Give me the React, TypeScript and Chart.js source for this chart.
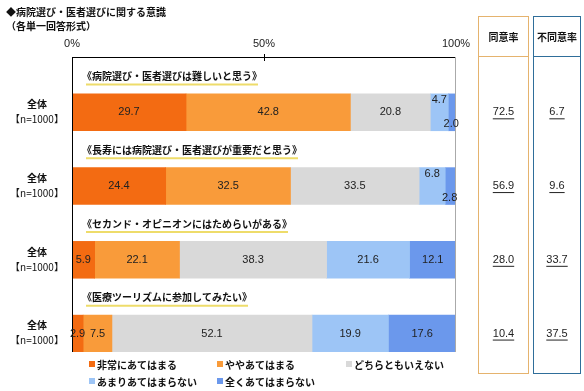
import React, { useEffect, useRef } from 'react';
import { Chart, registerables } from 'chart.js';

Chart.register(...registerables);

const chartTitle = '◆病院選び・医者選びに関する意識';
const chartSubtitle = '（各単一回答形式）';
const questions = [
  '《病院選び・医者選びは難しいと思う》',
  '《長寿には病院選び・医者選びが重要だと思う》',
  '《セカンド・オピニオンにはためらいがある》',
  '《医療ツーリズムに参加してみたい》',
];
const groupLabelTop = '全体';
const groupLabelBottom = '【n=1000】';
const seriesNames = ['非常にあてはまる', 'ややあてはまる', 'どちらともいえない', 'あまりあてはまらない', '全くあてはまらない'];
const veryTrue = [29.7, 24.4, 5.9, 2.9];
const somewhatTrue = [42.8, 32.5, 22.1, 7.5];
const neither = [20.8, 33.5, 38.3, 52.1];
const notMuch = [4.7, 6.8, 21.6, 19.9];
const notAtAll = [2.0, 2.8, 12.1, 17.6];
const agreeRate = [72.5, 56.9, 28.0, 10.4];
const disagreeRate = [6.7, 9.6, 33.7, 37.5];
const rateHeaders = ['同意率', '不同意率'];
const xTickValues = [0, 50, 100];

const COLORS = ['#F36B12', '#F99B3A', '#D9D9D9', '#9DC5F6', '#6B98EC'];
const JP = '"Noto Sans CJK JP", sans-serif';
const NUM = '"Liberation Sans", Arial, sans-serif';

const seriesValues = [veryTrue, somewhatTrue, neither, notMuch, notAtAll];

// 8 categories: title row, bar row alternating
const categories: string[] = [];
questions.forEach((q, i) => {
  categories.push('q' + i);
  categories.push('b' + i);
});

function expand(arr: number[]): (number | null)[] {
  const out: (number | null)[] = [];
  arr.forEach((v) => {
    out.push(null);
    out.push(v);
  });
  return out;
}

const overlayPlugin = {
  id: 'overlay',
  afterDraw(chart: any) {
    const ctx = chart.ctx as CanvasRenderingContext2D;
    const xs = chart.scales.x;
    const ys = chart.scales.y;
    const area = chart.chartArea;
    ctx.save();

    // Header
    ctx.fillStyle = '#111';
    ctx.textBaseline = 'middle';
    ctx.textAlign = 'left';
    ctx.font = `bold 10px ${JP}`;
    ctx.fillText(chartTitle, 6, 12);
    ctx.fillText(chartSubtitle, 6, 26);

    // Frame
    ctx.lineWidth = 1;
    ctx.strokeStyle = '#000';
    ctx.beginPath();
    ctx.moveTo(area.left, area.top + 0.5);
    ctx.lineTo(area.right, area.top + 0.5);
    ctx.moveTo(area.left + 0.5, area.top);
    ctx.lineTo(area.left + 0.5, area.bottom);
    const x50 = Math.round(xs.getPixelForValue(50)) + 0.5;
    ctx.moveTo(x50, area.top - 3);
    ctx.lineTo(x50, area.top + 4);
    ctx.stroke();
    ctx.strokeStyle = '#AAAAAA';
    ctx.beginPath();
    ctx.moveTo(Math.round(area.right) - 0.5, area.top);
    ctx.lineTo(Math.round(area.right) - 0.5, area.bottom);
    ctx.stroke();

    // Question titles with underline
    questions.forEach((q, i) => {
      const y = ys.getPixelForValue(i * 2) + 1;
      ctx.font = `bold 10px ${JP}`;
      ctx.fillStyle = '#111';
      ctx.textAlign = 'left';
      ctx.fillText(q, area.left + 10, y);
      const w = ctx.measureText(q).width;
      ctx.strokeStyle = '#EEDC6A';
      ctx.lineWidth = 2;
      ctx.beginPath();
      ctx.moveTo(area.left + 14, y + 8);
      ctx.lineTo(area.left + 10 + w - 4, y + 8);
      ctx.stroke();
    });

    // Row labels
    questions.forEach((_, i) => {
      const y = ys.getPixelForValue(i * 2 + 1);
      ctx.fillStyle = '#111';
      ctx.textAlign = 'center';
      ctx.font = `bold 10px ${JP}`;
      ctx.fillText(groupLabelTop, 37, y - 8);
      ctx.font = `10px ${JP}`;
      ctx.fillText(groupLabelBottom, 37, y + 7);
    });

    // Value labels
    ctx.font = `11px ${NUM}`;
    ctx.fillStyle = '#222';
    ctx.textAlign = 'center';
    for (let r = 0; r < questions.length; r++) {
      const meta0 = chart.getDatasetMeta(0);
      const bar = meta0.data[r * 2 + 1];
      const cy = bar.y;
      const half = bar.height / 2;
      let cum = 0;
      seriesValues.forEach((vals, i) => {
        const v = vals[r];
        const x0 = xs.getPixelForValue(cum);
        const x1 = xs.getPixelForValue(cum + v);
        cum += v;
        const w = x1 - x0;
        let tx = (x0 + x1) / 2;
        let ty = cy;
        if (i === 3 && w < 30) ty = cy - half + 6;
        if (i === 4 && w < 15) {
          ty = cy + half - 7;
          tx -= 1;
        }
        ctx.fillText(v.toFixed(1), tx, ty);
      });
    }

    // Rate boxes
    const boxes = [
      { left: 478, right: 528, color: '#E5B36E', vals: agreeRate, header: rateHeaders[0] },
      { left: 533, right: 580, color: '#2F6E9A', vals: disagreeRate, header: rateHeaders[1] },
    ];
    boxes.forEach((b) => {
      ctx.strokeStyle = b.color;
      ctx.lineWidth = 1;
      ctx.strokeRect(b.left + 0.5, 16.5, b.right - b.left, 373 - 16);
      ctx.beginPath();
      ctx.moveTo(b.left, 56.5);
      ctx.lineTo(b.right, 56.5);
      ctx.stroke();
      const cx = (b.left + b.right) / 2 + 0.5;
      ctx.fillStyle = '#111';
      ctx.textAlign = 'center';
      ctx.font = `bold 10px ${JP}`;
      ctx.fillText(b.header, cx, 37);
      ctx.font = `11px ${NUM}`;
      b.vals.forEach((v, r) => {
        const y = ys.getPixelForValue(r * 2 + 1);
        const t = v.toFixed(1);
        ctx.fillStyle = '#222';
        ctx.fillText(t, cx, y);
        const w = ctx.measureText(t).width;
        ctx.strokeStyle = '#222';
        ctx.beginPath();
        ctx.moveTo(cx - w / 2, y + 6.5);
        ctx.lineTo(cx + w / 2, y + 6.5);
        ctx.stroke();
      });
    });

    // Legend
    const legendPos = [
      [89, 364], [217, 364], [346, 364],
      [89, 381], [217, 381],
    ];
    ctx.font = `bold 10px ${JP}`;
    ctx.textAlign = 'left';
    seriesNames.forEach((name, i) => {
      const [lx, ly] = legendPos[i];
      ctx.fillStyle = COLORS[i];
      ctx.fillRect(lx, ly - 3, 6, 6);
      ctx.fillStyle = '#111';
      ctx.fillText(name, lx + 8, ly + 1);
    });

    ctx.restore();
  },
};

export default function App() {
  const ref = useRef<HTMLCanvasElement | null>(null);
  useEffect(() => {
    if (!ref.current) return;
    const chart = new Chart(ref.current, {
      type: 'bar',
      data: {
        labels: categories,
        datasets: seriesNames.map((name, i) => ({
          label: name,
          data: expand(seriesValues[i]),
          backgroundColor: COLORS[i],
          borderWidth: 0,
          barPercentage: 1,
          categoryPercentage: 1,
        })),
      },
      options: {
        indexAxis: 'y',
        animation: false,
        responsive: false,
        maintainAspectRatio: false,
        layout: { padding: { left: 0, right: 128, top: 0, bottom: 39 } },
        plugins: {
          legend: { display: false },
          tooltip: { enabled: false },
          title: { display: false },
        },
        scales: {
          x: {
            position: 'top',
            stacked: true,
            min: 0,
            max: 100,
            afterBuildTicks: (scale: any) => {
              scale.ticks = xTickValues.map((v) => ({ value: v }));
            },
            afterFit: (scale: any) => {
              scale.height = 57;
            },
            ticks: {
              callback: (v: any) => v + '%',
              font: { family: NUM, size: 11 },
              color: '#222',
              padding: 6,
              maxRotation: 0,
            },
            grid: { display: false, drawTicks: false, tickLength: 0 },
            border: { display: false },
          },
          y: {
            stacked: true,
            afterFit: (scale: any) => {
              scale.width = 72;
            },
            ticks: { display: false },
            grid: { display: false },
            border: { display: false },
          },
        },
      },
      plugins: [overlayPlugin],
    } as any);
    return () => chart.destroy();
  }, []);
  return (
    <div style={{ position: 'fixed', left: 0, top: 0, width: 584, height: 391, background: '#fff' }}>
      <canvas ref={ref} width={584} height={391} style={{ width: 584, height: 391 }} />
    </div>
  );
}
